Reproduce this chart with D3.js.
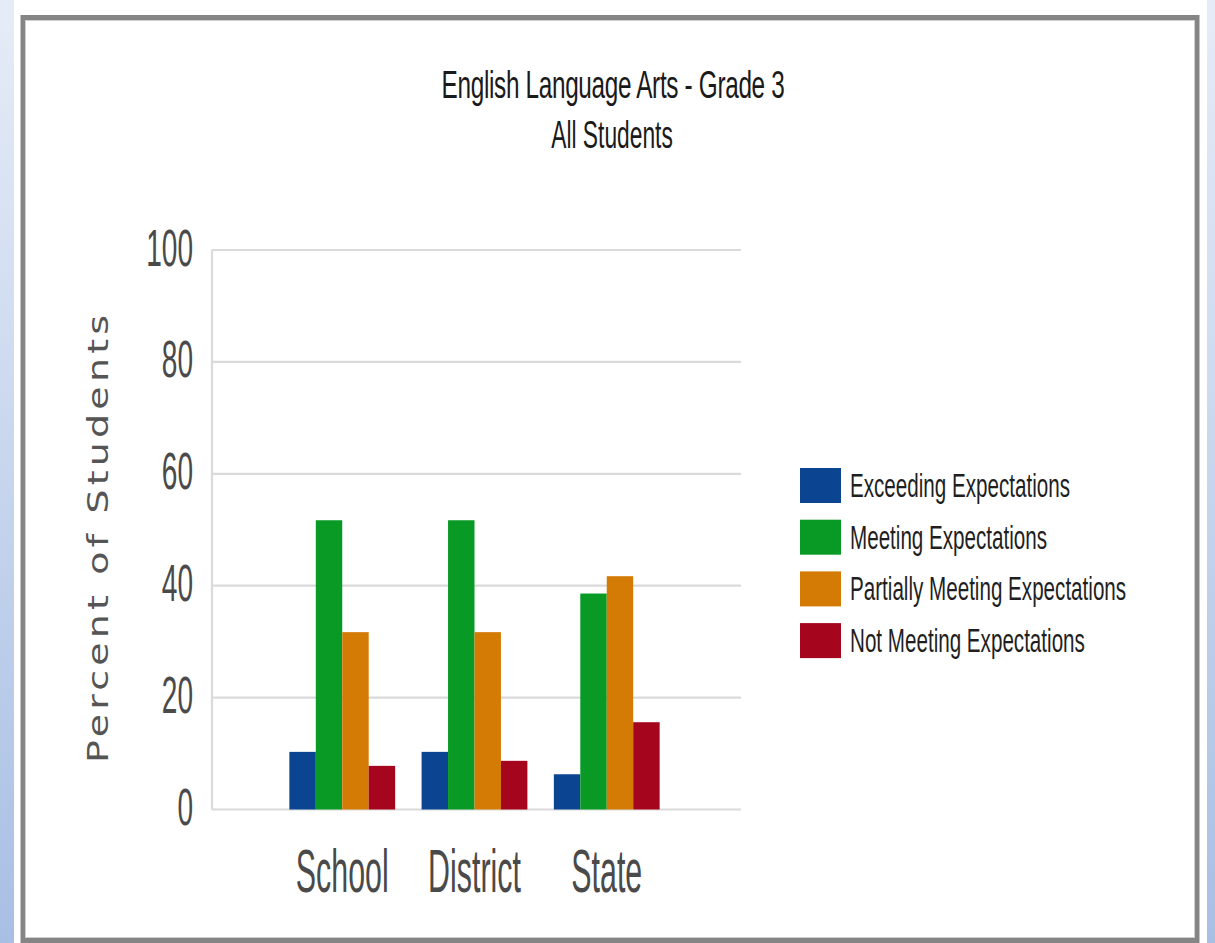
<!DOCTYPE html>
<html>
<head>
<meta charset="utf-8">
<script src="https://cdn.jsdelivr.net/npm/d3@7"></script>
<style>
  html, body { margin: 0; padding: 0; background: #fff; }
  svg { display: block; }
</style>
</head>
<body>
<svg id="chart" width="1215" height="943"></svg>
<script>
// Chart content
const title = "English Language Arts - Grade 3";
const subtitle = "All Students";
const yAxisTitle = "Percent of Students";
const categories = ["School", "District", "State"];
const seriesNames = [
  "Exceeding Expectations",
  "Meeting Expectations",
  "Partially Meeting Expectations",
  "Not Meeting Expectations"
];
const seriesColors = ["#0b4591", "#089a24", "#d47b06", "#a6061d"];
const exceeding = [10.3, 10.3, 6.3];
const meeting = [51.7, 51.7, 38.6];
const partially = [31.7, 31.7, 41.7];
const notMeeting = [7.8, 8.7, 15.6];
const yTicks = [0, 20, 40, 60, 80, 100];

const seriesValues = [exceeding, meeting, partially, notMeeting];

const svg = d3.select("#chart");
const W = 1215, H = 943;

// Page backdrop: blue gradient strips at the sides, framed white panel
const defs = svg.append("defs");
const grad = defs.append("linearGradient")
  .attr("id", "sideGrad").attr("x1", 0).attr("y1", 0).attr("x2", 0).attr("y2", 1);
grad.append("stop").attr("offset", "0%").attr("stop-color", "#e6ecf7");
grad.append("stop").attr("offset", "100%").attr("stop-color", "#a8bfe4");

svg.append("rect").attr("x", 0).attr("y", 0).attr("width", 14).attr("height", H).attr("fill", "url(#sideGrad)");
svg.append("rect").attr("x", 1207).attr("y", 0).attr("width", 8).attr("height", H).attr("fill", "url(#sideGrad)");

// frame
svg.append("rect").attr("x", 23).attr("y", 17.5).attr("width", 1174).attr("height", 923)
  .attr("fill", "#fff").attr("stroke", "#858585").attr("stroke-width", 5);
svg.append("rect").attr("x", 25.5).attr("y", 20.5).attr("width", 1169).attr("height", 917)
  .attr("fill", "none").attr("stroke", "#cfcfcf").attr("stroke-width", 1);

// Plot area
const plot = { left: 212, right: 741, top: 250, bottom: 809.5 };

const y = d3.scaleLinear().domain([0, 100]).range([plot.bottom, plot.top]);
const x0 = d3.scaleBand().domain(categories).range([plot.left - 2, plot.right - 2])
  .paddingInner(0.2).paddingOuter(0.6);
const x1 = d3.scaleBand().domain(seriesNames).range([0, x0.bandwidth()]).padding(0);
const color = d3.scaleOrdinal().domain(seriesNames).range(seriesColors);

// horizontal gridlines
svg.append("g").selectAll("line").data(yTicks).join("line")
  .attr("x1", plot.left).attr("x2", plot.right)
  .attr("y1", d => y(d)).attr("y2", d => y(d))
  .attr("stroke", "#dadada").attr("stroke-width", 2.2);

// left axis line
svg.append("line")
  .attr("x1", plot.left).attr("x2", plot.left)
  .attr("y1", plot.top).attr("y2", plot.bottom)
  .attr("stroke", "#dadada").attr("stroke-width", 2.2);

// Y tick labels via d3 axis, restyled
const yAxis = svg.append("g").attr("transform", `translate(${plot.left},0)`)
  .call(d3.axisLeft(y).tickValues(yTicks).tickSize(0).tickPadding(0));
yAxis.select(".domain").remove();
yAxis.selectAll(".tick text")
  .attr("x", null).attr("dy", null)
  .attr("fill", "#4a4a4a")
  .style("font-family", "'Liberation Sans', Arial, sans-serif")
  .style("font-size", "52px")
  .attr("text-anchor", "end")
  .attr("dominant-baseline", "central")
  .attr("transform", "translate(-19,-3) scale(0.54,1)");

// Bars
const groups = svg.append("g").selectAll("g").data(categories).join("g")
  .attr("transform", d => `translate(${x0(d)},0)`);
groups.selectAll("rect")
  .data((c, ci) => seriesNames.map((s, si) => ({ s, v: seriesValues[si][ci] })))
  .join("rect")
  .attr("x", d => x1(d.s))
  .attr("width", x1.bandwidth())
  .attr("y", d => y(d.v))
  .attr("height", d => y(0) - y(d.v))
  .attr("fill", d => color(d.s));

// X category labels
const xAxis = svg.append("g").attr("transform", `translate(0,${plot.bottom})`)
  .call(d3.axisBottom(x0).tickSize(0).tickPadding(0));
xAxis.select(".domain").remove();
xAxis.selectAll(".tick text")
  .attr("y", null).attr("dy", null)
  .attr("fill", "#4a4a4a")
  .style("font-family", "'Liberation Sans', Arial, sans-serif")
  .style("font-size", "62px")
  .attr("text-anchor", "middle")
  .attr("transform", "translate(0,82) scale(0.49,1)");

// Y axis title (glyphs flattened across the line direction)
svg.append("text")
  .attr("transform", "translate(108,539) rotate(-90) scale(1,0.74)")
  .attr("text-anchor", "middle")
  .attr("fill", "#555")
  .style("font-family", "'DejaVu Sans', Verdana, sans-serif")
  .style("font-size", "38px")
  .attr("textLength", 448)
  .attr("lengthAdjust", "spacing")
  .text(yAxisTitle);

// Title
const titleG = svg.append("g").style("font-family", "'Liberation Sans', Arial, sans-serif")
  .attr("fill", "#1a1a1a");
titleG.append("text")
  .attr("transform", "translate(613,98) scale(0.64,1)")
  .attr("text-anchor", "middle")
  .style("font-size", "38px")
  .attr("letter-spacing", "-0.5")
  .text(title);
titleG.append("text")
  .attr("transform", "translate(612,148) scale(0.6,1)")
  .attr("text-anchor", "middle")
  .style("font-size", "38px")
  .text(subtitle);

// Legend
const legend = svg.append("g").attr("transform", "translate(800,468)");
const items = legend.selectAll("g").data(seriesNames).join("g")
  .attr("transform", (d, i) => `translate(0,${i * 51.7})`);
items.append("rect")
  .attr("width", 41).attr("height", 35)
  .attr("fill", d => color(d));
items.append("text")
  .attr("transform", "translate(50,29) scale(0.625,1)")
  .attr("fill", "#1f1f1f")
  .style("font-family", "'Liberation Sans', Arial, sans-serif")
  .style("font-size", "33px")
  .text(d => d);
</script>
</body>
</html>
